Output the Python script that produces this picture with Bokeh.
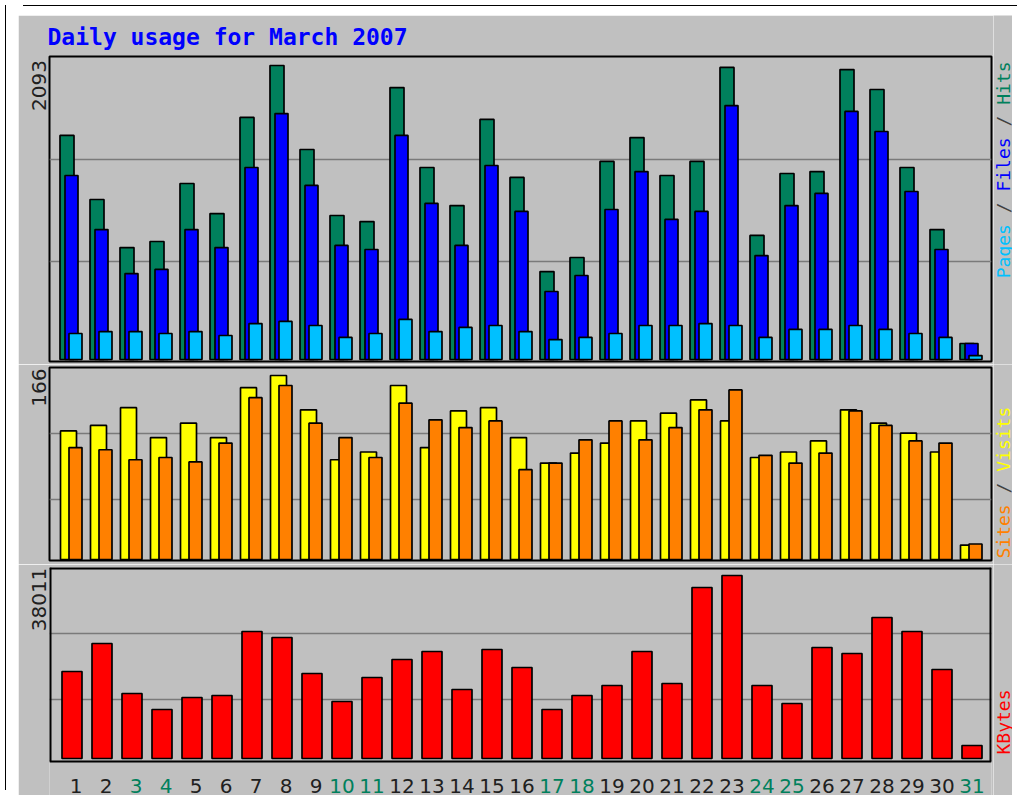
import math
from bokeh.plotting import figure
from bokeh.models import Range1d, FixedTicker, Div
from bokeh.layouts import column, row
from bokeh.embed import file_html
from bokeh.resources import INLINE
from bokeh.core.properties import value

# ---------------- data ----------------
days = list(range(1, 32))
day_labels = [str(d) for d in days]
weekend_days = [3, 4, 10, 11, 17, 18, 24, 25, 31]
hits = [1595, 1139, 797, 840, 1253, 1039, 1723, 2093, 1495, 1025, 982, 1936, 1367, 1096, 1709, 1296,
        626, 726, 1410, 1580, 1310, 1410, 2079, 883, 1324, 1338, 2064, 1922, 1367, 925, 114]
files = [1310, 925, 612, 641, 925, 797, 1367, 1751, 1239, 812, 783, 1595, 1111, 812, 1381, 1054,
         484, 598, 1068, 1338, 997, 1054, 1808, 740, 1096, 1182, 1766, 1623, 1196, 783, 114]
pages = [185, 199, 199, 185, 199, 171, 256, 271, 242, 157, 185, 285, 199, 228, 242, 199,
         142, 157, 185, 242, 242, 256, 242, 157, 214, 214, 242, 214, 185, 157, 28]
visits = [116, 121, 137, 110, 123, 110, 155, 166, 135, 90, 97, 157, 101, 134, 137, 110,
          87, 96, 105, 125, 132, 144, 125, 92, 97, 107, 135, 123, 114, 97, 13]
sites = [101, 99, 90, 92, 88, 105, 146, 157, 123, 110, 92, 141, 126, 119, 125, 81,
         87, 108, 125, 108, 119, 135, 153, 94, 87, 96, 134, 121, 107, 105, 14]
kbytes = [18071, 23886, 13501, 10178, 12670, 13086, 26379, 25133, 17655, 11839, 16824, 20562,
          22225, 14331, 22640, 18901, 10178, 13086, 15163, 22225, 15578, 35518, 38011, 15163,
          11424, 23055, 21809, 29287, 26379, 18486, 2700]
title_text = "Daily usage for March 2007"
max_labels = ["2093", "166", "38011"]
legend_top = [("Pages", "#00C0FF"), (" / ", "#404040"), ("Files", "#0000FF"),
              (" / ", "#404040"), ("Hits", "#00805C")]
legend_mid = [("Sites", "#FF8000"), (" / ", "#404040"), ("Visits", "#FFFF00")]
legend_bot = [("KBytes", "#FF0000")]

# ---------------- style / layout ----------------
BG = "#C0C0C0"
C_HITS, C_FILES, C_PAGES = "#00805C", "#0000FF", "#00C0FF"
C_VISITS, C_SITES, C_KB = "#FFFF00", "#FF8000", "#FF0000"

LEFT_PAD = 9          # white strip at left
FRAME_L = 48          # page x of plot frame left
FRAME_W = 942
B_LEFT = FRAME_L - 8 - LEFT_PAD
B_RIGHT = 2
LEG_W = 1011 - (FRAME_L + FRAME_W + B_RIGHT)
LEG_X = 1002
DAY_PX = 30.0
X0 = 0.25
x_range = Range1d(X0, X0 + FRAME_W / DAY_PX)


def px_off(px):
    return px / DAY_PX


def xd(px):
    return X0 + (px - FRAME_L) / DAY_PX


def make_panel(fig_top, frame_top, frame_bottom, fig_bottom, base, scale, grid_px, max_text,
               max_center_px, outline=True):
    y0 = -(frame_bottom - base) * scale
    y1 = (base - frame_top) * scale
    p = figure(frame_width=FRAME_W, frame_height=frame_bottom - frame_top,
               x_range=x_range, y_range=Range1d(y0, y1), frame_align=False,
               output_backend="svg", toolbar_location=None, x_axis_location=None,
               min_border_left=B_LEFT, min_border_right=B_RIGHT,
               min_border_top=frame_top - fig_top, min_border_bottom=fig_bottom - frame_bottom,
               background_fill_color=BG, border_fill_color=BG,
               outline_line_color="black" if outline else None, outline_line_width=2)
    p.xgrid.visible = False
    p.ygrid.ticker = FixedTicker(ticks=[(base - g) * scale for g in grid_px])
    p.ygrid.grid_line_color = "#7a7a7a"
    p.ygrid.grid_line_width = 1.5
    tick_v = int(round((base - max_center_px) * scale))
    ax = p.yaxis[0]
    ax.ticker = FixedTicker(ticks=[tick_v])
    ax.major_label_overrides = {tick_v: max_text}
    ax.major_label_orientation = "vertical"
    ax.axis_line_color = None
    ax.major_tick_line_color = None
    ax.minor_tick_line_color = None
    ax.major_tick_out = 0
    ax.major_tick_in = 0
    ax.major_label_standoff = 3
    ax.major_label_text_font = "DejaVu Sans"
    ax.major_label_text_font_size = "20px"
    ax.major_label_text_color = "#202020"

    def yd(py):
        return (base - py) * scale
    return p, yd


def make_legend(fig_top, fig_bottom, start_px, segments):
    r = figure(title=None, frame_width=LEG_W, frame_height=fig_bottom - fig_top, frame_align=False,
               x_range=Range1d(1011 - LEG_W, 1011), y_range=Range1d(fig_bottom, fig_top),
               output_backend="svg", toolbar_location=None,
               x_axis_location=None, y_axis_location=None,
               min_border=0, background_fill_color=BG, border_fill_color=BG,
               outline_line_color=None)
    r.grid.visible = False
    adv = 0.6021 * 18
    pos = start_px
    for txt, color in segments:
        s = txt.strip()
        lead = len(txt) - len(txt.lstrip())
        r.text(x=[LEG_X], y=[pos - lead * adv], text=[s], angle=math.pi / 2,
               text_align="left", text_baseline="middle",
               text_font=value("DejaVu Sans Mono"), text_font_size=value("18px"),
               text_color=color)
        pos -= len(txt) * adv
    return r


# figure vertical extents in page px
s1 = max(hits) / 294.0
p1, yd1 = make_panel(14, 55, 360, 363, 358, s1, [158, 260], max_labels[0], 84)
s2 = max(visits) / 184.0
p2, yd2 = make_panel(363, 366, 559, 563, 558, s2, [432, 498], max_labels[1], 386)
s3 = max(kbytes) / 183.0
# bottom panel's frame also covers the day-label strip; its box is drawn as lines
p3, yd3 = make_panel(563, 566, 794, 794, 757, s3, [632, 698], max_labels[2], 598, outline=False)

LW = 1.7
p1.vbar(x=[d + px_off(-5) for d in days], width=px_off(14), top=hits, bottom=0,
        fill_color=C_HITS, line_color="black", line_width=LW)
p1.vbar(x=[d + px_off(-0.5) for d in days], width=px_off(13), top=files, bottom=0,
        fill_color=C_FILES, line_color="black", line_width=LW)
p1.vbar(x=[d + px_off(3.5) for d in days], width=px_off(13), top=pages, bottom=0,
        fill_color=C_PAGES, line_color="black", line_width=LW)

p2.vbar(x=[d + px_off(-3.5) for d in days], width=px_off(16), top=visits, bottom=0,
        fill_color=C_VISITS, line_color="black", line_width=LW)
p2.vbar(x=[d + px_off(3.5) for d in days], width=px_off(13), top=sites, bottom=0,
        fill_color=C_SITES, line_color="black", line_width=LW)

p3.vbar(x=days, width=px_off(20), top=kbytes, bottom=0,
        fill_color=C_KB, line_color="black", line_width=LW)

# box of the bottom panel
bx0, bx1 = X0, xd(990)
by0, by1 = yd3(760), yd3(566)
p3.multi_line(xs=[[bx0, bx0], [bx1, bx1], [bx0, bx1]], ys=[[by0, by1], [by0, by1], [by1, by1]],
              line_color="black", line_width=4)
p3.line(x=[bx0, bx1], y=[by0, by0], line_color="black", line_width=2)

# day labels
p3.text(x=[d + (px_off(4) if d < 10 else 0) for d in days], y=[yd3(784)] * len(days), text=day_labels,
        text_color=[C_HITS if d in weekend_days else "#202020" for d in days],
        text_align="center", text_baseline="middle",
        text_font=value("DejaVu Sans"), text_font_size=value("20px"))

# title
p1.title.text = title_text
p1.title.text_font = "DejaVu Sans Mono"
p1.title.text_font_style = "bold"
p1.title.text_font_size = "23px"
p1.title.text_color = C_FILES
p1.title.align = "left"
p1.title.offset = -2
p1.title.standoff = 13

r1 = make_legend(14, 363, 60 + 20 * 0.6021 * 18, legend_top)
r2 = make_legend(363, 563, 557, legend_mid)
r3 = make_legend(563, 794, 753, legend_bot)

top_line = Div(text="", width=1011 - 8 - LEFT_PAD, height=5, styles={"border-top": "1px solid black"})
left_line = Div(text="", width=LEFT_PAD - 1, height=786 - 1, styles={"border-left": "1px solid black"})
main = column(top_line, row(p1, r1), row(p2, r2), row(p3, r3))
layout = row(left_line, main)

open("out.html", "w").write(file_html(layout, INLINE))
